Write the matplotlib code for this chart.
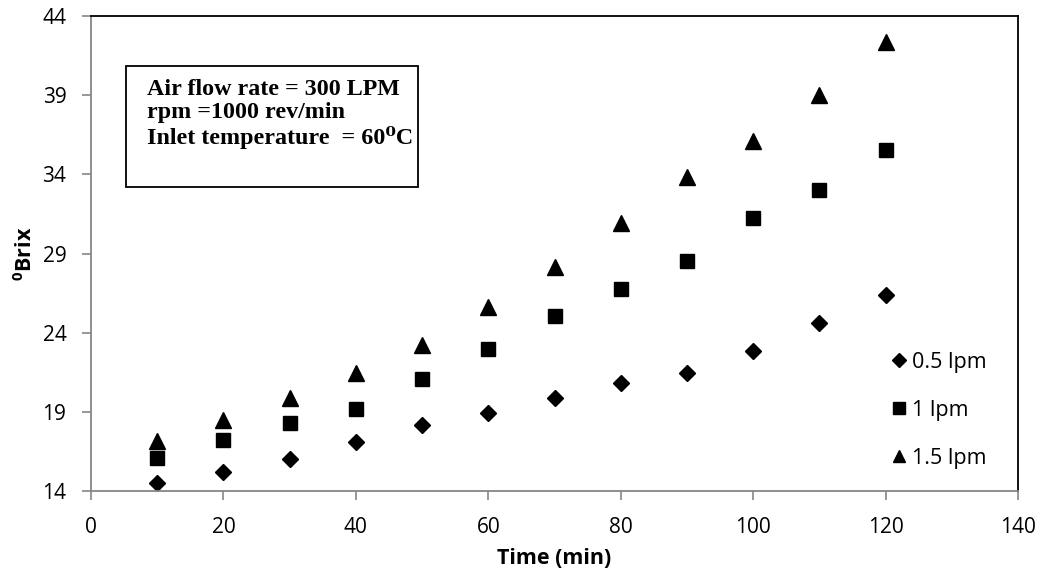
import matplotlib
matplotlib.use("Agg")
import matplotlib.pyplot as plt
from matplotlib.patches import Rectangle

plt.rcParams['font.family'] = ['Open Sans', 'DejaVu Sans']
plt.rcParams['mathtext.fontset'] = 'custom'
plt.rcParams['mathtext.bf'] = 'Liberation Serif:bold'
plt.rcParams['mathtext.rm'] = 'Liberation Serif'
plt.rcParams['mathtext.sf'] = 'Open Sans:bold'

time_min = [10, 20, 30, 40, 50, 60, 70, 80, 90, 100, 110, 120]
brix_05 = [14.49, 15.2, 16.0, 17.08, 18.17, 18.91, 19.87, 20.8, 21.45, 22.86, 24.59, 26.38]
brix_1 = [16.1, 17.2, 18.28, 19.18, 21.07, 22.95, 25.07, 26.74, 28.53, 31.22, 33.0, 35.53]
brix_15 = [17.16, 18.48, 19.85, 21.45, 23.22, 25.64, 28.13, 30.93, 33.83, 36.12, 39.0, 42.36]
labels = ['0.5 lpm', '1 lpm', '1.5 lpm']
x_ticks = [0, 20, 40, 60, 80, 100, 120, 140]
y_ticks = [14, 19, 24, 29, 34, 39, 44]
info_lines = ['Air flow rate = 300 LPM', 'rpm =1000 rev/min',
              'Inlet temperature  = 60\u2070C']

fig = plt.figure(figsize=(10.47, 5.76), dpi=100)
ax = fig.add_axes([91/1047, 1 - 491/576, 927/1047, 475/576])

ax.plot(time_min, brix_05, 'D', color='black', ms=8.5, ls='none', label=labels[0])
ax.plot(time_min, brix_1, 's', color='black', ms=10.5, ls='none', label=labels[1])
ax.plot(time_min, brix_15, '^', color='black', ms=11, ls='none', label=labels[2])

ax.set_xlim(0, 140)
ax.set_ylim(14, 44)
ax.set_xticks(x_ticks)
ax.set_yticks(y_ticks)
gray = '#868686'
for s in ['left', 'bottom']:
    ax.spines[s].set_color(gray)
    ax.spines[s].set_linewidth(1.3)
for s in ['top', 'right']:
    ax.spines[s].set_color('black')
    ax.spines[s].set_linewidth(1.3)
ax.tick_params(axis='both', direction='out', length=6.2, width=1.2, color=gray,
               labelsize=15, labelcolor='black')
ax.tick_params(axis='x', pad=12.5)
ax.tick_params(axis='y', pad=11.5)

ax.set_xlabel('Time (min)', fontsize=15.5, fontweight='bold', labelpad=7)
ax.set_ylabel(r'$^{\mathsf{0}}$Brix', fontsize=15.5, fontweight='bold', labelpad=4)

box = Rectangle((0.0378, 0.64), 0.3149, 0.2547, transform=ax.transAxes,
                fill=False, edgecolor='black', linewidth=1.3)
ax.add_patch(box)
ax.text(0.0604, 0.868, '\n'.join(info_lines), transform=ax.transAxes,
        family=['Liberation Serif', 'DejaVu Serif'], fontweight='bold', fontsize=17.3,
        va='top', ha='left', linespacing=1.15)

leg = ax.legend(loc='lower right', bbox_to_anchor=(0.9875, 0.006), frameon=False,
                fontsize=15.5, labelspacing=1.25, handletextpad=0.1,
                handlelength=1.0, markerscale=0.85)

fig.savefig('out.png', dpi=100)
